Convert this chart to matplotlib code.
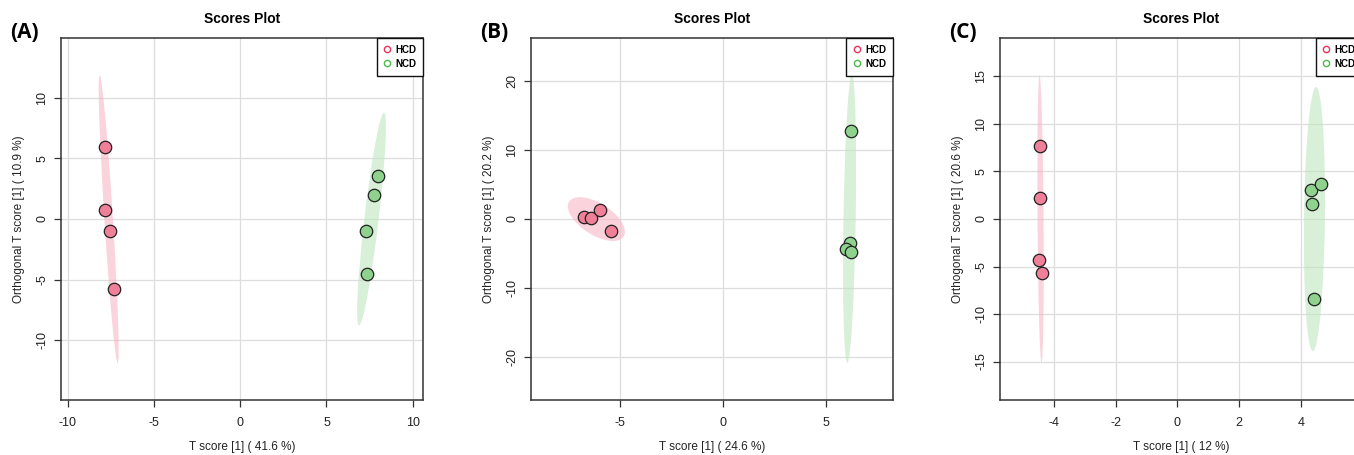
import matplotlib
matplotlib.use('Agg')
import matplotlib.pyplot as plt
from matplotlib.patches import Ellipse
from matplotlib.lines import Line2D
import numpy as np

plt.rcParams['font.family'] = ['Liberation Sans', 'DejaVu Sans']
plt.rcParams['axes.unicode_minus'] = False

groups = ['HCD', 'NCD']

# panel A
a_hcd_x = [-7.84, -7.82, -7.53, -7.35]
a_hcd_y = [5.93, 0.77, -0.96, -5.80]
a_ncd_x = [8.01, 7.78, 7.29, 7.37]
a_ncd_y = [3.57, 1.98, -0.99, -4.56]
# panel B
b_hcd_x = [-6.77, -6.41, -5.99, -5.45]
b_hcd_y = [0.34, 0.10, 1.31, -1.80]
b_ncd_x = [6.23, 6.20, 5.97, 6.25]
b_ncd_y = [12.8, -3.54, -4.42, -4.81]
# panel C
c_hcd_x = [-4.44, -4.43, -4.47, -4.37]
c_hcd_y = [7.72, 2.18, -4.28, -5.65]
c_ncd_x = [4.33, 4.64, 4.36, 4.43]
c_ncd_y = [3.09, 3.72, 1.58, -8.42]

panels = [
    dict(tag='(A)', hx=a_hcd_x, hy=a_hcd_y, nx=a_ncd_x, ny=a_ncd_y,
         xlab='T score [1] ( 41.6 %)', ylab='Orthogonal T score [1] ( 10.9 %)',
         xlim=(-10.4, 10.6), ylim=(-14.9, 14.9),
         xt=[-10, -5, 0, 5, 10], yt=[-10, -5, 0, 5, 10], left=61),
    dict(tag='(B)', hx=b_hcd_x, hy=b_hcd_y, nx=b_ncd_x, ny=b_ncd_y,
         xlab='T score [1] ( 24.6 %)', ylab='Orthogonal T score [1] ( 20.2 %)',
         xlim=(-9.35, 8.26), ylim=(-26.3, 26.3),
         xt=[-5, 0, 5], yt=[-20, -10, 0, 10, 20], left=530.7),
    dict(tag='(C)', hx=c_hcd_x, hy=c_hcd_y, nx=c_ncd_x, ny=c_ncd_y,
         xlab='T score [1] ( 12 %)', ylab='Orthogonal T score [1] ( 20.6 %)',
         xlim=(-5.74, 5.98), ylim=(-19.05, 19.05),
         xt=[-4, -2, 0, 2, 4], yt=[-15, -10, -5, 0, 5, 10, 15], left=1000),
]

pt_col = {'HCD': '#F07F98', 'NCD': '#8ED28E'}
ell_col = {'HCD': '#F7B6C6', 'NCD': '#BFE5BF'}
leg_col = {'HCD': '#E8345A', 'NCD': '#4CBB4C'}

W, H = 1354, 455
fig = plt.figure(figsize=(W / 100, H / 100), dpi=100)


def conf_ellipse(ax, x, y, color):
    x = np.asarray(x)
    y = np.asarray(y)
    cov = np.cov(x, y)
    vals, vecs = np.linalg.eigh(cov)
    k = np.sqrt(5.991)  # 95 % level, 2 df
    ang = np.degrees(np.arctan2(vecs[1, 1], vecs[0, 1]))
    e = Ellipse((x.mean(), y.mean()), 2 * k * np.sqrt(vals[1]), 2 * k * np.sqrt(vals[0]),
                angle=ang, facecolor=color, edgecolor='none', alpha=0.6, zorder=1)
    ax.add_patch(e)


for p in panels:
    ax = fig.add_axes([p['left'] / W, 1 - 400 / H, 362 / W, 362 / H])
    ax.set_xlim(p['xlim'])
    ax.set_ylim(p['ylim'])
    ax.set_xticks(p['xt'])
    ax.set_yticks(p['yt'])
    ax.grid(True, color='#dddddd', lw=0.9, zorder=0)
    ax.set_axisbelow(True)
    conf_ellipse(ax, p['hx'], p['hy'], ell_col['HCD'])
    conf_ellipse(ax, p['nx'], p['ny'], ell_col['NCD'])
    ax.scatter(p['hx'], p['hy'], s=80, c=pt_col['HCD'], edgecolors='#222222', linewidths=0.9, zorder=3)
    ax.scatter(p['nx'], p['ny'], s=80, c=pt_col['NCD'], edgecolors='#222222', linewidths=0.9, zorder=3)
    for s in ax.spines.values():
        s.set_color('#333333')
        s.set_linewidth(1.1)
    ax.tick_params(length=5, width=0.9, labelsize=9, colors='#333333', labelcolor='#222222')
    ax.tick_params(axis='x', pad=7)
    ax.tick_params(axis='y', pad=4)
    plt.setp(ax.get_yticklabels(), rotation=90, va='center')
    ax.set_xlabel(p['xlab'], fontsize=8.5, labelpad=9, color='#222222')
    ax.set_ylabel(p['ylab'], fontsize=8.5, labelpad=8, color='#222222')
    ax.set_title('Scores Plot', fontsize=10, fontweight='bold', pad=11)
    handles = [Line2D([], [], ls='none', marker='o', markersize=4.5, markerfacecolor='none',
                      markeredgecolor=leg_col[g], markeredgewidth=1.0) for g in groups]
    leg = ax.legend(handles, groups, loc='upper right', borderaxespad=0, fancybox=False,
                    framealpha=1, edgecolor='#111111', handlelength=0.8, handletextpad=0.4,
                    borderpad=0.7, labelspacing=0.4, prop={'size': 7, 'weight': 'bold'})
    leg.get_frame().set_linewidth(1.0)
    fig.text((p['left'] - 51) / W, 1 - 33 / H, p['tag'], fontsize=15, fontweight='bold',
             family=['Open Sans', 'DejaVu Sans'], va='center', ha='left')

fig.savefig('out.png', dpi=100)
